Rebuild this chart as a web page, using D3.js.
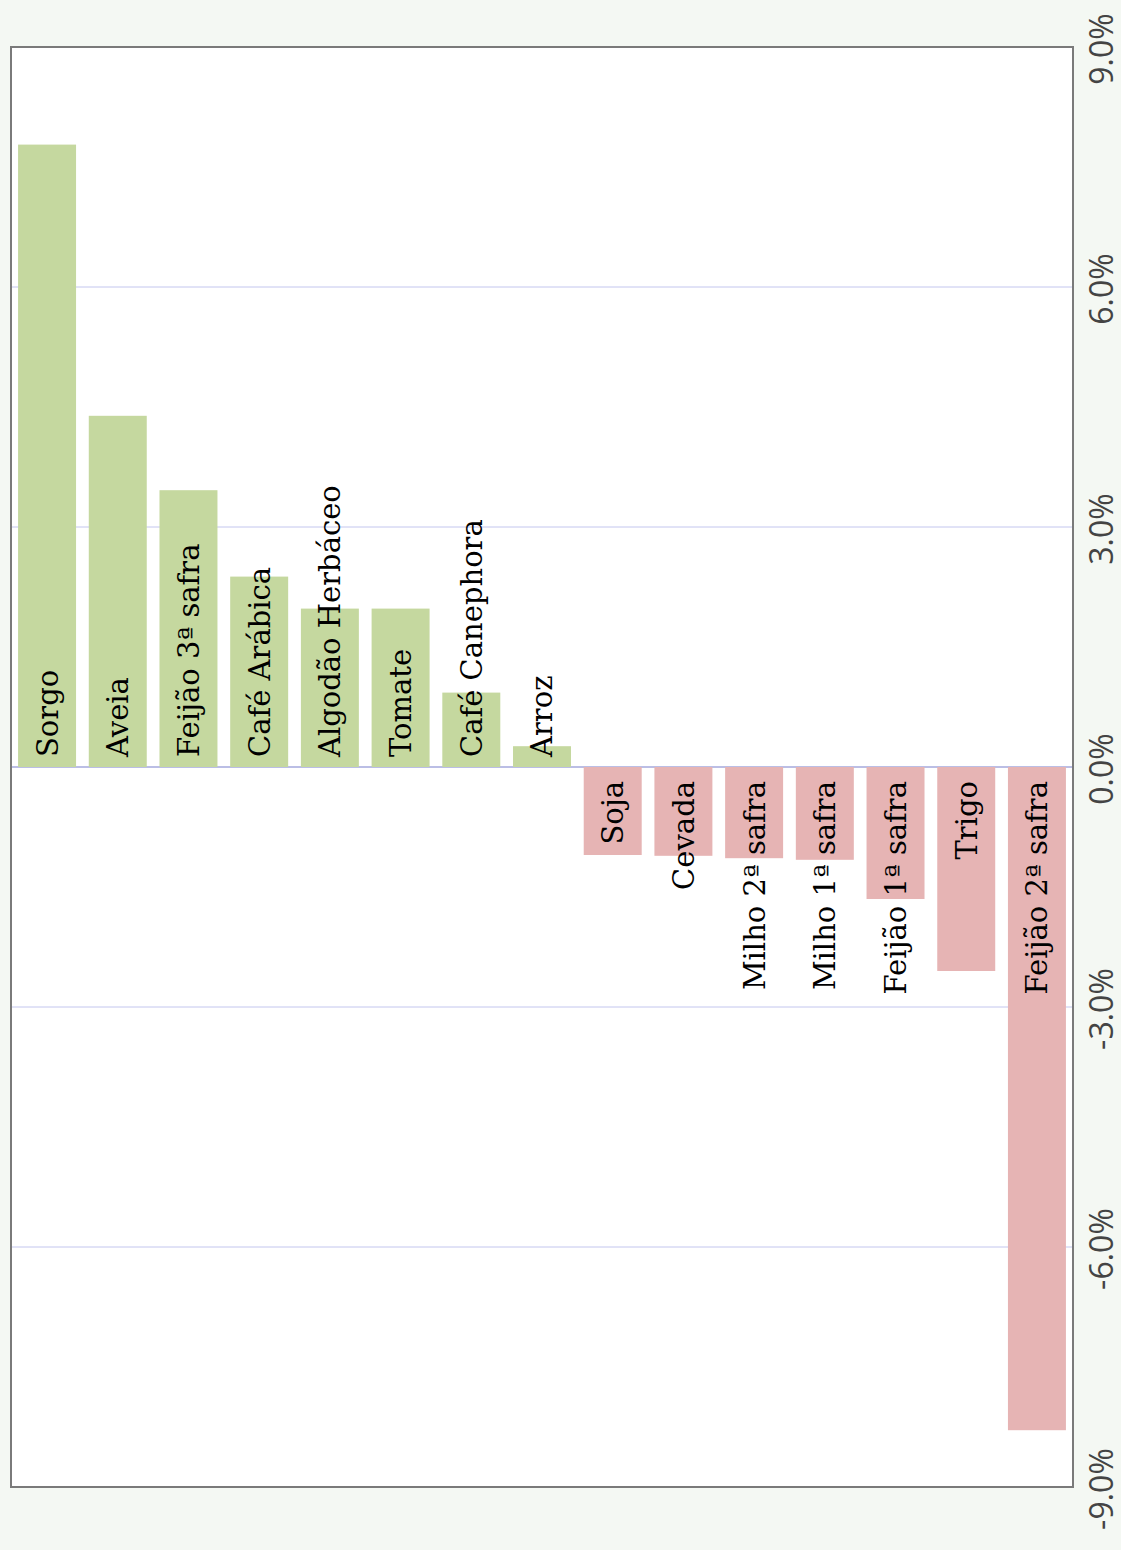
<!DOCTYPE html>
<html>
<head>
<meta charset="utf-8">
<script src="https://cdn.jsdelivr.net/npm/d3@7"></script>
<style>
html,body{margin:0;padding:0;background:#f4f8f3;}
svg{display:block;}
</style>
</head>
<body>
<svg id="chart" width="1121" height="1550"></svg>
<script>
const categories = ["Sorgo","Aveia","Feijão 3ª safra","Café Arábica","Algodão Herbáceo","Tomate","Café Canephora","Arroz","Soja","Cevada","Milho 2ª safra","Milho 1ª safra","Feijão 1ª safra","Trigo","Feijão 2ª safra"];
const values = [7.78, 4.39, 3.46, 2.38, 1.98, 1.98, 0.93, 0.26, -1.10, -1.11, -1.14, -1.16, -1.65, -2.55, -8.29];
const tickValues = [-9, -6, -3, 0, 3, 6, 9];
const tickLabels = ["-9.0%", "-6.0%", "-3.0%", "0.0%", "3.0%", "6.0%", "9.0%"];

(function(){
const data = categories.map((c,i)=>({cat:c, val:values[i]}));
const svg = d3.select("#chart");
const pL = 11, pR = 1073, pT = 47, pB = 1487;

const x = d3.scaleBand().domain(categories).range([pL, pR]).paddingInner(0.18).paddingOuter(0.1);
const y = d3.scaleLinear().domain([-9, 9]).range([pB, pT]);

svg.append("rect").attr("x", pL).attr("y", pT).attr("width", pR-pL).attr("height", pB-pT).attr("fill", "#ffffff");

// gridlines
svg.append("g").selectAll("line").data(tickValues.filter(t=>t>-9 && t<9)).join("line")
  .attr("x1", pL).attr("x2", pR)
  .attr("y1", d=>y(d)).attr("y2", d=>y(d))
  .attr("stroke", d=> d===0 ? "#a4a9dc" : "#c3c6ee").attr("stroke-width", d=> d===0 ? 1.5 : 1);

// bars
svg.append("g").selectAll("rect").data(data).join("rect")
  .attr("x", d=>x(d.cat)).attr("width", x.bandwidth())
  .attr("y", d=>y(Math.max(0,d.val))).attr("height", d=>Math.abs(y(d.val)-y(0)))
  .attr("fill", d=> d.val>=0 ? "#c5d89f" : "#e6b4b4");

// labels
svg.append("g").selectAll("text").data(data).join("text")
  .attr("transform", d=>`translate(${x(d.cat)+x.bandwidth()/2},${d.val>=0 ? y(0)-10 : y(0)+14}) rotate(-90)`)
  .attr("text-anchor", d=> d.val>=0 ? "start" : "end")
  .attr("dy", "0.36em")
  .attr("font-family", "'DejaVu Serif', serif")
  .attr("font-size", 29)
  .attr("fill", "#000")
  .text(d=>d.cat);

// border
svg.append("rect").attr("x", pL).attr("y", pT).attr("width", pR-pL).attr("height", pB-pT)
  .attr("fill", "none").attr("stroke", "#7a7a7a").attr("stroke-width", 2);

// axis tick labels
svg.append("g").selectAll("text").data(tickValues).join("text")
  .attr("transform", d=>`translate(1113,${y(d)+2}) rotate(-90)`)
  .attr("text-anchor", "middle")
  .attr("font-family", "'Open Sans', sans-serif")
  .attr("font-size", 32)
  .attr("fill", "#444")
  .text((d,i)=>tickLabels[i]);
})();
</script>
</body>
</html>
